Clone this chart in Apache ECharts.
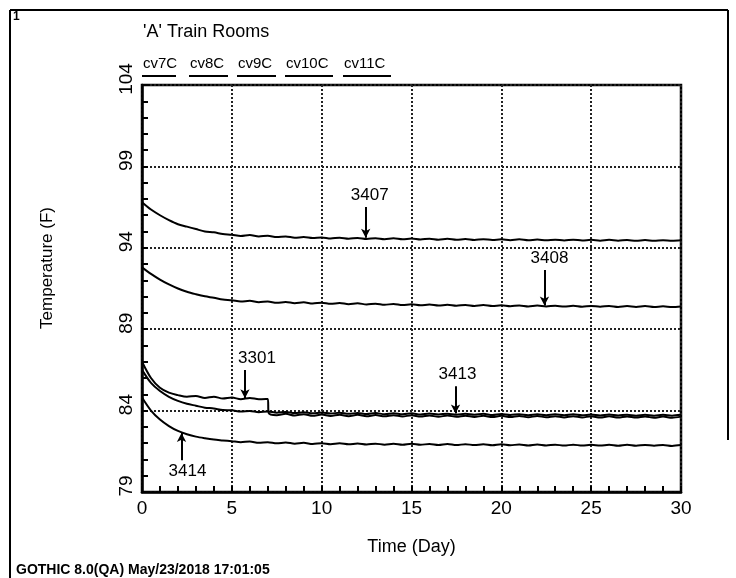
<!DOCTYPE html>
<html>
<head>
<meta charset="utf-8">
<script src="https://cdn.jsdelivr.net/npm/echarts@6/dist/echarts.min.js"></script>
<style>
  html, body { margin: 0; padding: 0; background: #fff; }
  #chart { width: 736px; height: 578px; }
</style>
</head>
<body>
<div id="chart"></div>
<script>
// time axis (days), half-day steps
var days = [0,0.5,1,1.5,2,2.5,3,3.5,4,4.5,5,5.5,6,6.5,7,7.5,8,8.5,9,9.5,10,
  10.5,11,11.5,12,12.5,13,13.5,14,14.5,15,15.5,16,16.5,17,17.5,18,18.5,19,19.5,20,
  20.5,21,21.5,22,22.5,23,23.5,24,24.5,25,25.5,26,26.5,27,27.5,28,28.5,29,29.5,30];

// 3301 has a step near day 7, so it gets its own time list
var days3301 = [0,0.5,1,1.5,2,2.5,3,3.5,4,4.5,5,5.5,6,6.5,7,7.05,7.5,8,8.5,9,9.5,10,
  10.5,11,11.5,12,12.5,13,13.5,14,14.5,15,15.5,16,16.5,17,17.5,18,18.5,19,19.5,20,
  20.5,21,21.5,22,22.5,23,23.5,24,24.5,25,25.5,26,26.5,27,27.5,28,28.5,29,29.5,30];

var t3407 = [96.8,96.35,96.0,95.7,95.45,95.3,95.15,95.0,94.95,94.85,94.8,94.72,94.78,94.7,94.74,94.66,94.7,94.62,94.66,94.6,94.64,
  94.57,94.62,94.56,94.6,94.54,94.59,94.53,94.58,94.52,94.57,94.51,94.56,94.5,94.55,94.49,94.54,94.48,94.53,94.48,94.52,
  94.47,94.52,94.46,94.51,94.46,94.5,94.45,94.5,94.45,94.49,94.44,94.49,94.44,94.48,94.43,94.48,94.43,94.47,94.43,94.46];

var t3408 = [92.8,92.4,92.05,91.75,91.5,91.3,91.15,91.02,90.93,90.82,90.78,90.7,90.74,90.66,90.7,90.62,90.67,90.6,90.65,90.58,90.63,
  90.56,90.61,90.54,90.59,90.52,90.57,90.5,90.55,90.48,90.53,90.47,90.51,90.45,90.5,90.44,90.49,90.43,90.48,90.42,90.47,
  90.41,90.46,90.4,90.45,90.4,90.44,90.39,90.44,90.38,90.43,90.38,90.43,90.37,90.42,90.37,90.42,90.36,90.41,90.36,90.4];

var t3301 = [87.0,86.0,85.4,85.1,84.95,84.85,84.9,84.78,84.85,84.74,84.8,84.7,84.78,84.7,84.72,83.85,83.72,83.8,83.7,83.78,83.68,83.76,
  83.67,83.75,83.66,83.74,83.65,83.73,83.65,83.72,83.64,83.71,83.63,83.7,83.62,83.7,83.62,83.69,83.61,83.68,83.6,83.68,
  83.6,83.67,83.59,83.67,83.59,83.66,83.58,83.66,83.58,83.65,83.57,83.65,83.57,83.64,83.57,83.64,83.56,83.63,83.56,83.63];

var t3413 = [86.5,85.7,85.2,84.85,84.6,84.42,84.3,84.18,84.13,84.03,84.02,83.94,83.98,83.9,83.95,83.87,83.92,83.85,83.9,83.83,83.88,
  83.82,83.87,83.8,83.86,83.79,83.85,83.78,83.84,83.77,83.83,83.76,83.82,83.76,83.81,83.75,83.8,83.74,83.8,83.73,83.79,
  83.73,83.78,83.72,83.78,83.72,83.77,83.71,83.77,83.71,83.76,83.7,83.76,83.7,83.75,83.69,83.75,83.69,83.74,83.69,83.74];

var t3414 = [84.8,84.0,83.45,83.05,82.75,82.55,82.4,82.3,82.22,82.17,82.12,82.06,82.1,82.02,82.06,81.99,82.04,81.97,82.02,81.95,82.0,
  81.94,81.99,81.93,81.98,81.92,81.97,81.91,81.96,81.9,81.96,81.9,81.95,81.89,81.95,81.88,81.94,81.88,81.93,81.87,81.93,
  81.87,81.92,81.86,81.92,81.86,81.91,81.85,81.91,81.85,81.9,81.85,81.9,81.84,81.9,81.84,81.89,81.84,81.89,81.83,81.88];

// curve labels: [text, day, arrow start temp, arrow tip temp, label shift px]
var callouts = [
  ['3407', 12.45, 96.5, 94.62, 4],
  ['3408', 22.4, 92.64, 90.45, 5],
  ['3301', 5.73, 86.5, 84.76, 12],
  ['3413', 17.45, 85.5, 83.82, 2],
  ['3414', 2.2, 80.95, 82.62, 6]
];

var legendNames = ['cv7C', 'cv8C', 'cv9C', 'cv10C', 'cv11C'];

var font = '"Liberation Sans", Arial, sans-serif';

function pairs(xs, ys) {
  var out = [];
  for (var i = 0; i < xs.length; i++) out.push([xs[i], ys[i]]);
  return out;
}

var lineStyle = { color: '#000', width: 2 };
var seriesData = [
  { name: '3407', data: pairs(days, t3407) },
  { name: '3408', data: pairs(days, t3408) },
  { name: '3301', data: pairs(days3301, t3301) },
  { name: '3413', data: pairs(days, t3413) },
  { name: '3414', data: pairs(days, t3414) }
];

var series = seriesData.map(function (s) {
  return {
    name: s.name, type: 'line', data: s.data, showSymbol: false, smooth: 0.3,
    lineStyle: lineStyle, silent: true, animation: false
  };
});

// arrows with their labels
series.push({
  type: 'line', data: [], silent: true, animation: false,
  markLine: {
    silent: true, animation: false,
    symbol: ['none', 'arrow'], symbolSize: [7, 9],
    lineStyle: { color: '#000', width: 2, type: 'solid' },
    label: {
      show: true, position: 'start', distance: 3,
      fontFamily: font, fontSize: 17, color: '#000',
      formatter: function (p) { return p.name; }
    },
    data: callouts.map(function (c) {
      return [
        { name: c[0], coord: [c[1], c[2]], label: { padding: [0, 0, 0, 2 * c[4]] } },
        { coord: [c[1], c[3]] }
      ];
    })
  }
});

// frame, header texts, legend-like names with underline samples
var graphics = [
  { type: 'line', shape: { x1: 10, y1: 10, x2: 728, y2: 10 }, style: { stroke: '#000', lineWidth: 2 } },
  { type: 'line', shape: { x1: 10, y1: 10, x2: 10, y2: 578 }, style: { stroke: '#000', lineWidth: 2 } },
  { type: 'line', shape: { x1: 728, y1: 10, x2: 728, y2: 440 }, style: { stroke: '#000', lineWidth: 2 } },
  { type: 'text', left: 13, top: 11, style: { text: '1', font: 'bold 12px ' + font, fill: '#000' } },
  { type: 'text', left: 143, top: 23, style: { text: "'A' Train Rooms", font: '18px ' + font, fill: '#000' } },
  { type: 'text', x: 47, y: 268, rotation: Math.PI / 2,
    style: { text: 'Temperature (F)', font: '17px ' + font, fill: '#000', align: 'center', verticalAlign: 'middle' } },
  { type: 'text', left: 16, top: 563, style: { text: 'GOTHIC 8.0(QA) May/23/2018 17:01:05', font: 'bold 14px ' + font, fill: '#000' } }
];
var legX = [142, 189, 237, 285, 343];
var legW = [34, 39, 39, 48, 48];
legendNames.forEach(function (n, i) {
  graphics.push({ type: 'text', left: legX[i] + 1, top: 56, style: { text: n, font: '15px ' + font, fill: '#000' } });
  graphics.push({ type: 'line', shape: { x1: legX[i], y1: 76, x2: legX[i] + legW[i], y2: 76 },
    style: { stroke: '#000', lineWidth: 2 } });
});

var chart = echarts.init(document.getElementById('chart'));
chart.setOption({
  animation: false,
  backgroundColor: '#fff',
  grid: { left: 142, right: 55, top: 85, bottom: 86, show: true, borderColor: '#000', borderWidth: 2.5 },
  xAxis: {
    type: 'value', min: 0, max: 30, interval: 5,
    name: 'Time (Day)', nameLocation: 'middle', nameGap: 46,
    nameTextStyle: { fontFamily: font, fontSize: 18, color: '#000' },
    axisLine: { lineStyle: { color: '#000', width: 2.5 } },
    axisTick: { inside: true, length: 6, lineStyle: { color: '#000', width: 2 } },
    minorTick: { show: true, splitNumber: 5, length: 6, lineStyle: { color: '#000', width: 2 } },
    axisLabel: { fontFamily: font, fontSize: 19, color: '#000', margin: 7 },
    splitLine: { show: true, lineStyle: { color: '#222', width: 2, type: [2, 2] } }
  },
  yAxis: {
    type: 'value', min: 79, max: 104, interval: 5,
    axisLine: { lineStyle: { color: '#000', width: 2.5 } },
    axisTick: { inside: true, length: 6, lineStyle: { color: '#000', width: 2 } },
    minorTick: { show: true, splitNumber: 5, length: 6, lineStyle: { color: '#000', width: 2 } },
    axisLabel: { fontFamily: font, fontSize: 19, color: '#000', rotate: 90, margin: 6,
      padding: [0, 0, 0, 12], showMinLabel: true, showMaxLabel: true },
    splitLine: { show: true, lineStyle: { color: '#222', width: 2, type: [2, 2] } }
  },
  series: series,
  graphic: graphics
});
</script>
</body>
</html>
